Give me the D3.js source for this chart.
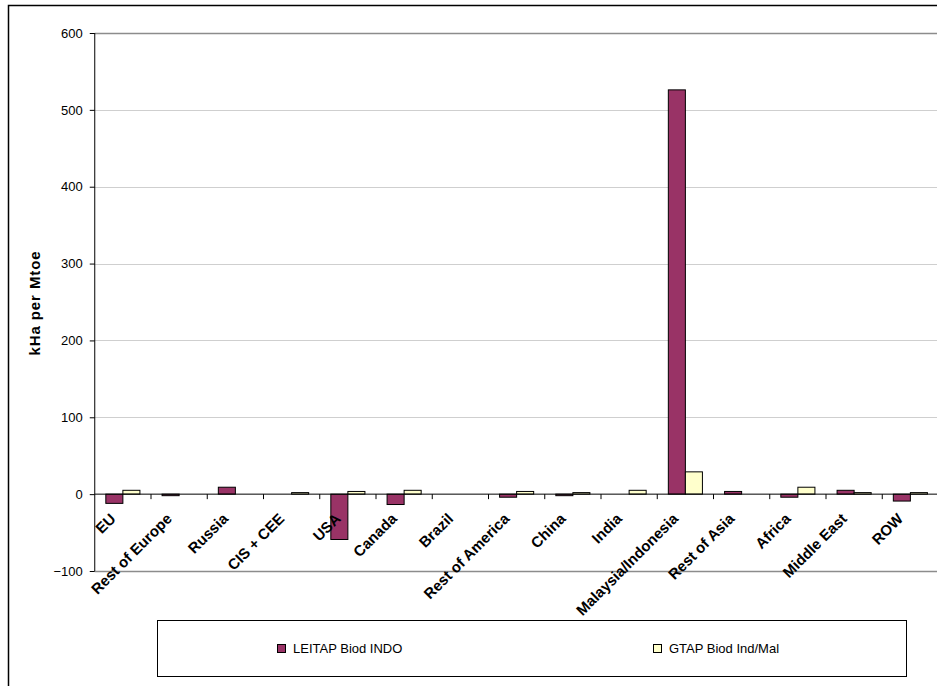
<!DOCTYPE html>
<html><head><meta charset="utf-8">
<script src="https://cdn.jsdelivr.net/npm/d3@7"></script>
<style>
body{margin:0;background:#fff;}
svg{display:block;font-family:"Liberation Sans",Arial,sans-serif;}
</style></head>
<body><svg id="c" width="937" height="686"></svg>
<script>
const categories = ["EU","Rest of Europe","Russia","CIS + CEE","USA","Canada","Brazil","Rest of America","China","India","Malaysia/Indonesia","Rest of Asia","Africa","Middle East","ROW"];
const seriesNames = ["LEITAP Biod INDO","GTAP Biod Ind/Mal"];
const leitap = [-12,-2,9,0,-59,-13.5,0,-4,-2,0,526,3.5,-4,5,-9];
const gtap = [5,0,0,2,3.5,5,0,3.5,2,5,29,0,9,2,2];
const yTicks = [-100,0,100,200,300,400,500,600];
const colors = ["#993366","#ffffcc"];

const svg = d3.select("#c");
const L = 94.75, R = L + 15*56.25, T = 33, B = 571;

// outer frame
svg.append("rect").attr("x",8.5).attr("y",5.5).attr("width",1000).attr("height",1000)
  .attr("fill","none").attr("stroke","#000").attr("stroke-width",1.5);

const x = d3.scaleBand().domain(categories).range([L,R]).paddingInner(0).paddingOuter(0);
const x1 = d3.scaleBand().domain(seriesNames).range([0,x.bandwidth()]).paddingInner(0).paddingOuter(0.65);
const y = d3.scaleLinear().domain([-100,600]).range([B,T]);

// gridlines
svg.append("g").selectAll("line").data(yTicks.filter(d=>d!==0)).join("line")
  .attr("x1",L).attr("x2",R).attr("y1",d=>Math.round(y(d))+0.5).attr("y2",d=>Math.round(y(d))+0.5)
  .attr("stroke",d=>(d===600||d===-100)?"#8c8c8c":"#cfcfcf").attr("stroke-width",d=>(d===600||d===-100)?1.5:1);

// bars
const data = [];
categories.forEach((c,i)=>{ data.push({c,s:seriesNames[0],v:leitap[i],k:0}); data.push({c,s:seriesNames[1],v:gtap[i],k:1}); });
svg.append("g").selectAll("rect").data(data.filter(d=>d.v!==0)).join("rect")
  .attr("x",d=>x(d.c)+x1(d.s)).attr("width",x1.bandwidth())
  .attr("y",d=>y(Math.max(0,d.v))).attr("height",d=>Math.abs(y(d.v)-y(0)))
  .attr("fill",d=>colors[d.k]).attr("stroke","#000").attr("stroke-width",1);

// y axis
const yAxis = d3.axisLeft(y).tickValues(yTicks).tickSize(5).tickPadding(7);
const gy = svg.append("g").attr("transform",`translate(${L},0)`).call(yAxis);
gy.select(".domain").attr("stroke","#000").attr("d",`M0,${T}V${B}`);
gy.selectAll(".tick line").attr("stroke","#000");
gy.selectAll(".tick text").attr("font-size",13).attr("fill","#000").attr("font-family","Liberation Sans, Arial, sans-serif");

// x axis at zero
const xAxis = d3.axisBottom(x).tickSize(0).tickFormat("");
const gx = svg.append("g").attr("transform",`translate(0,${y(0)})`).call(xAxis);
gx.select(".domain").attr("stroke","#000").attr("d",`M${L},0H${R}`);
gx.selectAll(".tick").remove();
const bounds = d3.range(1,16).map(i=>x(categories[i-1])+x.bandwidth());
gx.selectAll("line.tk").data(bounds).join("line").attr("class","tk")
  .attr("x1",d=>d).attr("x2",d=>d).attr("y1",0).attr("y2",5).attr("stroke","#000");

// category labels
svg.append("g").selectAll("text").data(categories).join("text")
  .attr("transform",d=>`translate(${x(d)+x.bandwidth()/2-10},516) rotate(-45)`)
  .attr("text-anchor","end").attr("dy","0.35em")
  .attr("font-size",15).attr("font-weight","bold").attr("fill","#000").text(d=>d);

// y label
svg.append("text").attr("transform","translate(40,303) rotate(-90)")
  .attr("text-anchor","middle").attr("font-size",15).attr("font-weight","bold")
  .attr("letter-spacing",0.9).text("kHa per Mtoe");

// legend
svg.append("rect").attr("x",157.5).attr("y",620.5).attr("width",749).attr("height",56)
  .attr("fill","#fff").attr("stroke","#000").attr("stroke-width",1);
const lx = [277,653];
const lg = svg.append("g").selectAll("g").data(seriesNames).join("g")
  .attr("transform",(d,i)=>`translate(${lx[i]},644)`);
lg.append("rect").attr("x",0.5).attr("y",0.5).attr("width",8).attr("height",8)
  .attr("fill",(d,i)=>colors[i]).attr("stroke","#000");
lg.append("text").attr("x",16).attr("y",4.5).attr("dy","0.35em").attr("font-size",13)
  .text(d=>d);
</script></body></html>
